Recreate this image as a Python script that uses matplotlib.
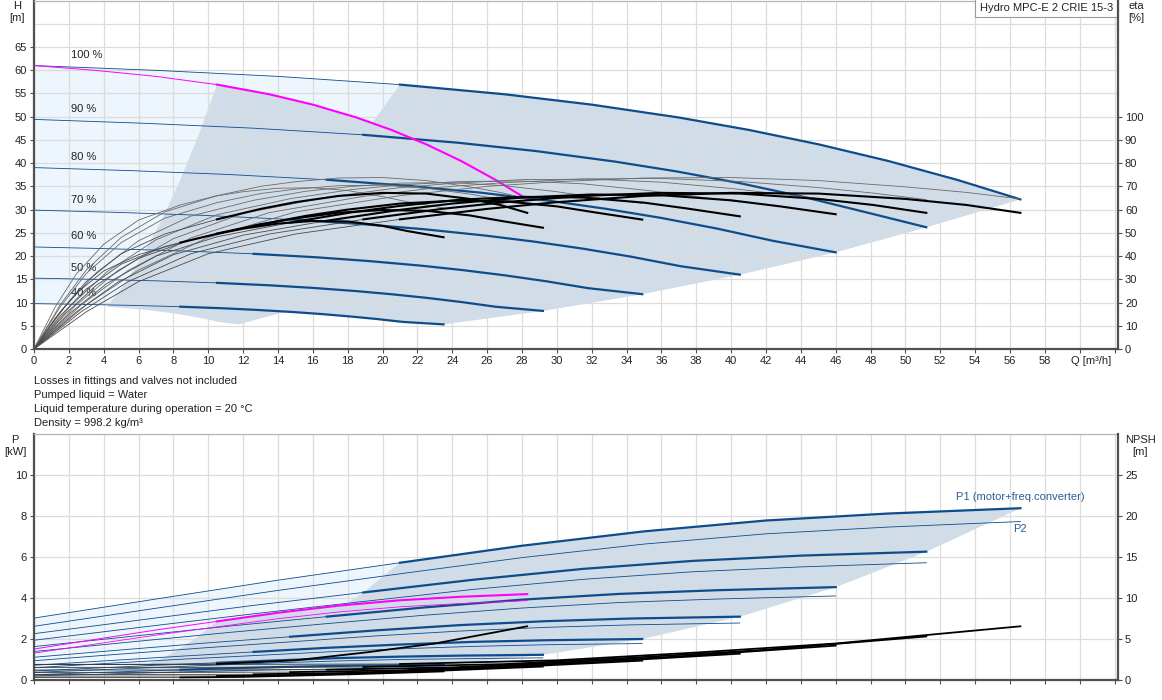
import matplotlib
matplotlib.use('Agg')
import matplotlib.pyplot as plt

plt.rcParams['font.family'] = ['Liberation Sans', 'DejaVu Sans']
plt.rcParams['font.size'] = 8

# ---------------- data ----------------
speeds = ['100 %', '90 %', '80 %', '70 %', '60 %', '50 %', '40 %']
# index of the minimum-flow point in the lists below (thick part starts there)
QH_MIN = 3
ETA_MIN = 5
P_MIN = 3
NPSH_MIN = 2

# Q-H, two pumps, per speed
qh_q = [
    [0, 7, 14, 21, 27, 32, 37, 41, 45, 49, 53, 56.6],
    [0, 6.3, 12.6, 18.9, 24.3, 28.8, 33.3, 36.9, 40.5, 44.1, 47.7, 51.2],
    [0, 5.6, 11.2, 16.8, 21.6, 25.6, 29.6, 32.8, 36, 39.2, 42.4, 46.0],
    [0, 4.9, 9.8, 14.7, 18.9, 22.4, 25.9, 28.7, 31.5, 34.3, 37.1, 40.5],
    [0, 4.2, 8.4, 12.6, 16.2, 19.2, 22.2, 24.6, 27, 29.4, 31.8, 34.9],
    [0, 3.5, 7, 10.5, 13.5, 16, 18.5, 20.5, 22.5, 24.5, 26.5, 29.2],
    [0, 2.8, 5.6, 8.4, 10.8, 12.8, 14.8, 16.4, 18, 19.6, 21.2, 23.5],
]
qh_h = [
    [61.0, 59.97, 58.67, 56.9, 54.82, 52.59, 49.82, 47.16, 44.06, 40.48, 36.37, 32.2],
    [49.41, 48.58, 47.52, 46.09, 44.40, 42.60, 40.35, 38.20, 35.69, 32.79, 29.46, 26.2],
    [39.04, 38.38, 37.55, 36.42, 35.08, 33.66, 31.88, 30.18, 28.20, 25.91, 23.28, 20.8],
    [29.89, 29.39, 28.75, 27.88, 26.86, 25.77, 24.41, 23.11, 21.59, 19.84, 17.82, 16.0],
    [21.96, 21.59, 21.12, 20.48, 19.74, 18.93, 17.94, 16.98, 15.86, 14.57, 13.09, 11.8],
    [15.25, 14.99, 14.67, 14.23, 13.71, 13.15, 12.46, 11.79, 11.02, 10.12, 9.09, 8.2],
    [9.76, 9.60, 9.39, 9.10, 8.77, 8.41, 7.97, 7.55, 7.05, 6.48, 5.82, 5.3],
]
# one pump, 100 % (selected curve)
sgl_q = [0, 3.5, 7, 10.5, 13.5, 16, 18.5, 20.5, 22.5, 24.5, 26.5, 28.3]
sgl_h = [61.0, 59.97, 58.67, 56.9, 54.82, 52.59, 49.82, 47.16, 44.06, 40.48, 36.37, 32.2]
# one pump operating area borders (90 % .. 40 %)
sgl_end_q = [25.6, 23.0, 20.25, 17.45, 14.6, 11.75]
sgl_end_h = [26.2, 20.8, 16.0, 11.8, 8.2, 5.3]
sgl_min_q = [9.45, 8.4, 7.35, 6.3, 5.25, 4.2]
sgl_min_h = [46.09, 36.42, 27.88, 20.48, 14.23, 9.10]
sgl40_q = [0, 1.4, 2.8, 4.2, 5.4, 6.4, 7.4, 8.2, 9.0, 9.8, 10.6, 11.75]
sgl40_h = [9.76, 9.60, 9.39, 9.10, 8.77, 8.41, 7.97, 7.55, 7.05, 6.48, 5.82, 5.3]

# efficiency [%], two pumps: total (thick) and pump only (thin)
eta_q = [
    [0, 3, 6, 10, 15, 21, 26, 30, 35, 40, 45, 50, 53.5, 56.6],
    [0, 2.7, 5.4, 9, 13.5, 18.9, 23.4, 27, 31.5, 36, 40.5, 45, 48.15, 51.2],
    [0, 2.4, 4.8, 8, 12, 16.8, 20.8, 24, 28, 32, 36, 40, 42.8, 46.0],
    [0, 2.1, 4.2, 7, 10.5, 14.7, 18.2, 21, 24.5, 28, 31.5, 35, 37.45, 40.5],
    [0, 1.8, 3.6, 6, 9, 12.6, 15.6, 18, 21, 24, 27, 30, 32.1, 34.9],
    [0, 1.5, 3, 5, 7.5, 10.5, 13, 15, 17.5, 20, 22.5, 25, 26.75, 29.2],
    [0, 1.2, 2.4, 4, 6, 8.4, 10.4, 12, 14, 16, 18, 20, 21.4, 23.5],
]
eta_tot = [
    [0, 16.0, 29.0, 41.0, 49.5, 55.8, 60.3, 63.2, 65.9, 67.2, 66.9, 64.6, 62.0, 58.6],
    [0, 16.0, 29.0, 41.0, 49.5, 55.8, 60.3, 63.2, 65.9, 67.2, 66.9, 64.6, 62.0, 58.6],
    [0, 15.8, 28.7, 40.6, 49.0, 55.2, 59.7, 62.6, 65.2, 66.5, 66.2, 64.0, 61.4, 58.0],
    [0, 15.6, 28.3, 40.0, 48.3, 54.4, 58.8, 61.6, 64.3, 65.5, 65.2, 63.0, 60.5, 57.1],
    [0, 15.2, 27.6, 39.0, 47.0, 53.0, 57.3, 60.0, 62.6, 63.8, 63.6, 61.4, 58.9, 55.7],
    [0, 14.2, 25.8, 36.5, 44.1, 49.7, 53.7, 56.2, 58.7, 59.8, 59.5, 57.5, 55.2, 52.2],
    [0, 13.1, 23.8, 33.6, 40.6, 45.8, 49.4, 51.8, 54.0, 55.1, 54.9, 53.0, 50.8, 48.1],
]
eta_pump = [
    [0, 19.0, 34.0, 48.0, 59.0, 66.0, 70.0, 72.0, 73.6, 73.8, 72.5, 69.8, 67.4, 64.6],
    [0, 18.9, 33.8, 47.8, 58.7, 65.7, 69.7, 71.6, 73.2, 73.4, 72.1, 69.5, 67.1, 64.3],
    [0, 18.8, 33.7, 47.5, 58.4, 65.3, 69.3, 71.3, 72.9, 73.1, 71.8, 69.1, 66.7, 64.0],
    [0, 18.6, 33.3, 47.0, 57.8, 64.7, 68.6, 70.6, 72.1, 72.3, 71.1, 68.4, 66.1, 63.3],
    [0, 18.4, 33.0, 46.6, 57.2, 64.0, 67.9, 69.8, 71.4, 71.6, 70.3, 67.7, 65.4, 62.7],
    [0, 18.1, 32.5, 45.8, 56.3, 63.0, 66.9, 68.8, 70.3, 70.5, 69.2, 66.7, 64.4, 61.7],
    [0, 17.9, 32.0, 45.1, 55.5, 62.0, 65.8, 67.7, 69.2, 69.4, 68.2, 65.6, 63.4, 60.7],
]
sgl_eta_q = [0, 1.5, 3, 5, 7.5, 10.5, 13, 15, 17.5, 20, 22.5, 25, 26.75, 28.3]
sgl_eta_tot = [0, 16.0, 29.0, 41.0, 49.5, 55.8, 60.3, 63.2, 65.9, 67.2, 66.9, 64.6, 62.0, 58.6]
sgl_eta_pump = [0, 19.0, 34.0, 48.0, 59.0, 66.0, 70.0, 72.0, 73.6, 73.8, 72.5, 69.8, 67.4, 64.6]

# power [kW], two pumps
p_q = [
    [0, 7, 14, 21, 28, 35, 42, 49, 56.6],
    [0, 6.3, 12.6, 18.9, 25.2, 31.5, 37.8, 44.1, 51.2],
    [0, 5.6, 11.2, 16.8, 22.4, 28, 33.6, 39.2, 46.0],
    [0, 4.9, 9.8, 14.7, 19.6, 24.5, 29.4, 34.3, 40.5],
    [0, 4.2, 8.4, 12.6, 16.8, 21, 25.2, 29.4, 34.9],
    [0, 3.5, 7, 10.5, 14, 17.5, 21, 24.5, 29.2],
    [0, 2.8, 5.6, 8.4, 11.2, 14, 16.8, 19.6, 23.5],
]
p1 = [
    [3.02, 3.95, 4.87, 5.72, 6.55, 7.25, 7.78, 8.12, 8.38],
    [2.26, 2.95, 3.64, 4.27, 4.89, 5.42, 5.81, 6.07, 6.26],
    [1.63, 2.13, 2.63, 3.09, 3.54, 3.92, 4.20, 4.38, 4.53],
    [1.11, 1.46, 1.80, 2.11, 2.42, 2.68, 2.87, 3.00, 3.09],
    [0.72, 0.94, 1.16, 1.37, 1.57, 1.73, 1.86, 1.94, 2.00],
    [0.44, 0.58, 0.72, 0.84, 0.96, 1.07, 1.14, 1.19, 1.23],
    [0.26, 0.34, 0.42, 0.50, 0.57, 0.63, 0.68, 0.71, 0.73],
]
p2 = [
    [2.62, 3.50, 4.37, 5.18, 5.97, 6.63, 7.13, 7.46, 7.73],
    [1.94, 2.59, 3.23, 3.83, 4.42, 4.91, 5.28, 5.52, 5.72],
    [1.39, 1.86, 2.32, 2.75, 3.16, 3.51, 3.78, 3.95, 4.10],
    [0.94, 1.26, 1.57, 1.86, 2.15, 2.39, 2.57, 2.69, 2.78],
    [0.60, 0.81, 1.01, 1.19, 1.37, 1.52, 1.64, 1.72, 1.78],
    [0.37, 0.49, 0.61, 0.73, 0.84, 0.93, 1.00, 1.04, 1.08],
    [0.20, 0.26, 0.33, 0.39, 0.45, 0.50, 0.53, 0.56, 0.58],
]
sgl_p_q = [0, 3.5, 7, 10.5, 14, 17.5, 21, 24.5, 28.3]
sgl_p1 = [1.51, 1.98, 2.44, 2.86, 3.28, 3.63, 3.89, 4.06, 4.19]
sgl_p2 = [1.31, 1.75, 2.19, 2.59, 2.99, 3.32, 3.57, 3.73, 3.87]
sgl_p_end = [3.13, 2.26, 1.55, 1.00, 0.62, 0.365]
sgl_p_min = [2.13, 1.54, 1.05, 0.68, 0.42, 0.25]
sgl_p40_q = [0, 1.4, 2.8, 4.2, 5.6, 7, 8.4, 9.8, 11.75]
sgl_p40 = [0.13, 0.17, 0.21, 0.25, 0.285, 0.315, 0.34, 0.355, 0.365]

# NPSH [m]
npsh_q = [
    [0, 10, 21, 30, 38, 46, 56.6],
    [0, 9, 18.9, 27, 34.2, 41.4, 51.2],
    [0, 8, 16.8, 24, 30.4, 36.8, 46.0],
    [0, 7, 14.7, 21, 26.6, 32.2, 40.5],
    [0, 6, 12.6, 18, 22.8, 27.6, 34.9],
    [0, 5, 10.5, 15, 19, 23, 29.2],
    [0, 4, 8.4, 12, 15.2, 18.4, 23.5],
]
npsh = [
    [1.90, 1.90, 1.95, 2.40, 3.35, 4.45, 6.55],
    [1.54, 1.54, 1.58, 1.94, 2.71, 3.60, 5.31],
    [1.22, 1.22, 1.25, 1.54, 2.14, 2.85, 4.19],
    [0.93, 0.93, 0.96, 1.18, 1.64, 2.18, 3.21],
    [0.68, 0.68, 0.70, 0.86, 1.21, 1.60, 2.36],
    [0.48, 0.48, 0.49, 0.60, 0.84, 1.11, 1.64],
    [0.30, 0.30, 0.31, 0.38, 0.54, 0.71, 1.05],
]
sgl_npsh_q = [0, 5, 10.5, 15, 19, 23, 28.3]
sgl_npsh = [1.90, 1.90, 1.95, 2.40, 3.35, 4.45, 6.55]

notes = ['Losses in fittings and valves not included',
         'Pumped liquid = Water',
         'Liquid temperature during operation = 20 \u00b0C',
         'Density = 998.2 kg/m\u00b3']

# ---------------- style ----------------
BLUE = '#0e4c8b'
MAG = '#ff00ff'
LIGHT = '#edf5fd'
AREA = '#d0dce8'
GRID = '#dcdcdc'
SPINE = '#505050'
TXT = '#222222'


def split_line(ax, q, v, i0, color, thin, thick, thin_color=None):
    ax.plot(q[:i0 + 1], v[:i0 + 1], color=thin_color or color, lw=thin, zorder=2)
    ax.plot(q[i0:], v[i0:], color=color, lw=thick, zorder=2.2)


def areas(ax, i0, cq, cv, sq, sv, s_end, s_min, s40q, s40v):
    ends_q = [c[-1] for c in cq[1:]]
    ends_v = [c[-1] for c in cv[1:]]
    # light area under the 100 % curve
    lx = cq[0] + ends_q + cq[6][-2::-1]
    ly = cv[0] + ends_v + cv[6][-2::-1]
    ax.fill(lx, ly, color=LIGHT, lw=0, zorder=0.8)
    # two pumps operating area
    gx = cq[0][i0:] + ends_q + cq[6][-2:i0 - 1:-1] + [c[i0] for c in cq[5::-1]]
    gy = cv[0][i0:] + ends_v + cv[6][-2:i0 - 1:-1] + [c[i0] for c in cv[5::-1]]
    ax.fill(gx, gy, color=AREA, lw=0, zorder=0.9)
    # one pump operating area
    sx = sq[i0:] + sgl_end_q + s40q[-2:i0 - 1:-1] + sgl_min_q[-2::-1]
    sy = sv[i0:] + s_end + s40v[-2:i0 - 1:-1] + s_min[-2::-1]
    ax.fill(sx, sy, color=AREA, lw=0, zorder=0.9)


def style_axes(ax, twin):
    ax.set_xlim(0, 62.2)
    ax.set_axisbelow('line')
    ax.grid(True, which='both', color=GRID, lw=0.9)
    for s in ['left', 'bottom']:
        ax.spines[s].set_color(SPINE)
        ax.spines[s].set_linewidth(1.6)
    ax.spines['top'].set_color('#b5b5b5')
    ax.spines['top'].set_linewidth(0.9)
    ax.spines['right'].set_visible(False)
    for s in ['left', 'top', 'bottom']:
        twin.spines[s].set_visible(False)
    twin.spines['right'].set_color(SPINE)
    twin.spines['right'].set_linewidth(1.6)
    for a in (ax, twin):
        a.tick_params(which='major', direction='out', length=3, width=0.8,
                      color=SPINE, labelcolor=TXT, labelsize=8, pad=2)
        a.tick_params(which='minor', length=0)


fig = plt.figure(figsize=(11.62, 7.0), dpi=100)
W = 1162.0
Hpx = 700.0
x0 = 34 / W
wd = (1118 - 34) / W
ax1 = fig.add_axes([x0, 1 - 349 / Hpx, wd, 348.5 / Hpx])
ax2 = fig.add_axes([x0, 1 - 680 / Hpx, wd, (680 - 434) / Hpx])

# ---------------- top: Q-H and eta ----------------
ax1e = ax1.twinx()
areas(ax1, QH_MIN, qh_q, qh_h, sgl_q, sgl_h, sgl_end_h, sgl_min_h, sgl40_q, sgl40_h)
for i in range(len(speeds)):
    split_line(ax1, qh_q[i], qh_h[i], QH_MIN, BLUE, 0.6, 1.6)
    ax1.text(2.1, qh_h[i][0] + 1.2, speeds[i], ha='left', va='bottom',
             fontsize=8, color=TXT)
ax1.plot(sgl_q[:QH_MIN + 1], sgl_h[:QH_MIN + 1], color=MAG, lw=0.7, zorder=2.3)
ax1.plot(sgl_q[QH_MIN:], sgl_h[QH_MIN:], color=MAG, lw=1.5, zorder=2.3)

for i in range(len(speeds)):
    ax1e.plot(eta_q[i], eta_pump[i], color='#6a6a6a', lw=0.6)
    split_line(ax1e, eta_q[i], eta_tot[i], ETA_MIN, 'black', 0.6, 1.5, thin_color='#4a4a4a')
ax1e.plot(sgl_eta_q, sgl_eta_pump, color='#6a6a6a', lw=0.6)
split_line(ax1e, sgl_eta_q, sgl_eta_tot, ETA_MIN, 'black', 0.6, 1.5, thin_color='#4a4a4a')

ax1.set_ylim(0, 75)
ax1.set_yticks(range(0, 66, 5))
ax1.set_yticks([70, 75], minor=True)
ax1.set_xticks(range(0, 63, 2))
ax1.set_xticklabels([str(v) if v <= 58 else '' for v in range(0, 63, 2)])
ax1e.set_ylim(0, 150)
ax1e.set_yticks(range(0, 101, 10))
style_axes(ax1, ax1e)
ax1.annotate('Q [m\u00b3/h]', xy=(59.5, 0), xycoords=('data', 'axes fraction'),
             xytext=(0, -5), textcoords='offset points', ha='left', va='top',
             fontsize=8, color=TXT)
ax1.text(0.9955, 0.993, 'Hydro MPC-E 2 CRIE 15-3', transform=ax1.transAxes,
         ha='right', va='top', fontsize=8, color=TXT, zorder=5,
         bbox=dict(boxstyle='square,pad=0.4', fc='white', ec='#9a9a9a', lw=0.8))
fig.text(17 / W, 1 - 12 / Hpx, 'H\n[m]', ha='center', va='center',
         fontsize=8, color=TXT, linespacing=1.15)
fig.text(1136 / W, 1 - 12 / Hpx, 'eta\n[%]', ha='center', va='center',
         fontsize=8, color=TXT, linespacing=1.15)

for k, line in enumerate(notes):
    fig.text(34 / W, 1 - (381 + 14 * k) / Hpx, line, ha='left', va='center',
             fontsize=8, color=TXT)

# ---------------- bottom: power and NPSH ----------------
ax2n = ax2.twinx()
areas(ax2, P_MIN, p_q, p1, sgl_p_q, sgl_p1, sgl_p_end, sgl_p_min, sgl_p40_q, sgl_p40)
for i in range(len(speeds)):
    ax2.plot(p_q[i], p2[i], color=BLUE, lw=0.6, zorder=2)
    split_line(ax2, p_q[i], p1[i], P_MIN, BLUE, 0.6, 1.6)
ax2.plot(sgl_p_q, sgl_p2, color=MAG, lw=0.6, zorder=2.3)
ax2.plot(sgl_p_q[:P_MIN + 1], sgl_p1[:P_MIN + 1], color=MAG, lw=0.7, zorder=2.3)
ax2.plot(sgl_p_q[P_MIN:], sgl_p1[P_MIN:], color=MAG, lw=1.5, zorder=2.3)
ax2.text(p_q[0][-1], p1[0][-1] + 0.3, 'P1 (motor+freq.converter)', ha='center',
         va='bottom', fontsize=8, color='#2b5f95')
ax2.text(p_q[0][-1], p2[0][-1] - 0.1, 'P2', ha='center', va='top',
         fontsize=8, color='#2b5f95')

for i in range(len(speeds)):
    split_line(ax2n, npsh_q[i], npsh[i], NPSH_MIN, 'black', 0.6, 1.3, thin_color='#3a3a3a')
split_line(ax2n, sgl_npsh_q, sgl_npsh, NPSH_MIN, 'black', 0.7, 1.3, thin_color='#3a3a3a')

ax2.set_ylim(0, 12)
ax2.set_yticks(range(0, 11, 2))
ax2.set_yticks([12], minor=True)
ax2.set_xticks(range(0, 63, 2))
ax2.set_xticklabels([])
ax2n.set_ylim(0, 30)
ax2n.set_yticks(range(0, 26, 5))
style_axes(ax2, ax2n)
fig.text(15 / W, 1 - 446 / Hpx, 'P\n[kW]', ha='center', va='center',
         fontsize=8, color=TXT, linespacing=1.15)
fig.text(1140 / W, 1 - 446 / Hpx, 'NPSH\n[m]', ha='center', va='center',
         fontsize=8, color=TXT, linespacing=1.15)

fig.savefig('out.png', dpi=100)
